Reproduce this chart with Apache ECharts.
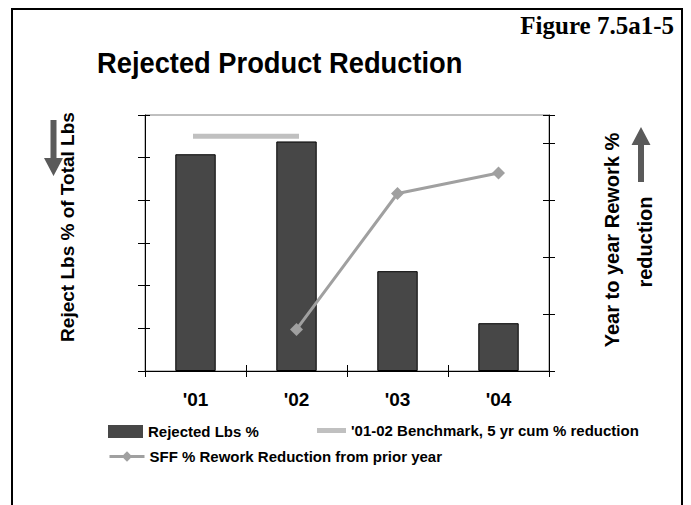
<!DOCTYPE html>
<html>
<head>
<meta charset="utf-8">
<style>
  html, body { margin: 0; padding: 0; background: #ffffff; }
  #chart { width: 691px; height: 505px; }
</style>
<script src="https://cdn.jsdelivr.net/npm/echarts@6/dist/echarts.min.js"></script>
</head>
<body>
<div id="chart"></div>
<script>
// Years on the category axis
const years = ["'01", "'02", "'03", "'04"];
// Reject lbs as % of total lbs (left axis)
const rejectedLbs = [5.08, 5.38, 2.34, 1.12];
// 5-year cumulative benchmark, spanning '01-'02 (left axis)
const benchmark = [5.5, 5.5, null, null];
// Year-to-year rework reduction (right axis)
const reworkReduction = [null, 7.3, 31.2, 34.8];

const leftMax = 6, leftStep = 1;
const rightMax = 45, rightStep = 10;

const SANS = 'Liberation Sans, Arial, sans-serif';
const SERIF = 'Liberation Serif, Times New Roman, serif';

const NAME_BARS = 'Rejected Lbs %';
const NAME_BENCH = "'01-02 Benchmark, 5 yr cum % reduction";
const NAME_LINE = 'SFF % Rework Reduction from prior year';

const chart = echarts.init(document.getElementById('chart'), null, { renderer: 'svg' });

const legendText = { fontFamily: SANS, fontWeight: 'bold', fontSize: 15, color: '#000' };

const option = {
  backgroundColor: '#ffffff',
  animation: false,
  grid: {
    left: 145, right: 142, top: 115, bottom: 134,
    show: true, borderColor: '#808080', borderWidth: 1, backgroundColor: 'transparent'
  },
  xAxis: [
    {
      type: 'category', data: years, position: 'bottom',
      axisLine: { lineStyle: { color: '#000', width: 1 } },
      axisTick: { show: true, inside: false, length: 6, lineStyle: { color: '#000' } },
      axisLabel: { margin: 19, fontFamily: SANS, fontWeight: 'bold', fontSize: 19, color: '#000' }
    },
    {
      type: 'category', data: years, position: 'bottom',
      axisLine: { show: false },
      axisTick: { show: true, inside: true, length: 6, lineStyle: { color: '#000' } },
      axisLabel: { show: false }
    }
  ],
  yAxis: [
    {
      type: 'value', min: 0, max: leftMax, interval: leftStep, position: 'left',
      axisLine: { show: true, lineStyle: { color: '#000' } },
      axisTick: { show: true, inside: false, length: 7, lineStyle: { color: '#000' } },
      axisLabel: { show: false }, splitLine: { show: false }
    },
    {
      type: 'value', min: 0, max: rightMax, interval: rightStep, position: 'right',
      axisLine: { show: true, lineStyle: { color: '#000' } },
      axisTick: { show: true, inside: false, length: 6, lineStyle: { color: '#000' } },
      axisLabel: { show: false }, splitLine: { show: false }
    },
    {
      type: 'value', min: 0, max: leftMax, interval: leftStep, position: 'left',
      axisLine: { show: false },
      axisTick: { show: true, inside: true, length: 5, lineStyle: { color: '#000' } },
      axisLabel: { show: false }, splitLine: { show: false }
    },
    {
      type: 'value', min: 0, max: rightMax, interval: rightStep, position: 'right',
      axisLine: { show: false },
      axisTick: { show: true, inside: true, length: 6, lineStyle: { color: '#000' } },
      axisLabel: { show: false }, splitLine: { show: false }
    }
  ],
  legend: [
    {
      data: [{ name: NAME_BARS, icon: 'rect' }], left: 108, top: 424, orient: 'horizontal',
      itemWidth: 35, itemHeight: 13, itemGap: 0, padding: 0,
      itemStyle: { borderWidth: 0 },
      textStyle: legendText
    },
    {
      data: [{ name: NAME_BENCH, icon: 'rect' }], left: 317, top: 423, orient: 'horizontal',
      itemWidth: 29, itemHeight: 5, itemGap: 0, padding: 0,
      textStyle: legendText
    },
    {
      data: [NAME_LINE], left: 108, top: 449, orient: 'horizontal',
      itemWidth: 35, itemHeight: 13, itemGap: 0, padding: 0,
      lineStyle: { width: 3 },
      textStyle: legendText
    }
  ],
  series: [
    {
      name: NAME_BARS, type: 'bar', data: rejectedLbs,
      xAxisIndex: 0, yAxisIndex: 0, barWidth: '40%',
      itemStyle: { color: '#474747', borderColor: '#000', borderWidth: 1 }
    },
    {
      name: NAME_BENCH, type: 'line', data: benchmark,
      xAxisIndex: 0, yAxisIndex: 0, symbol: 'none', showSymbol: false,
      lineStyle: { color: '#c0c0c0', width: 5, cap: 'square' },
      itemStyle: { color: '#c0c0c0' }, z: 3
    },
    {
      name: NAME_LINE, type: 'line', data: reworkReduction,
      xAxisIndex: 0, yAxisIndex: 1, symbol: 'diamond', symbolSize: 13,
      lineStyle: { color: '#a0a0a0', width: 3 },
      itemStyle: { color: '#a0a0a0' }, z: 4
    }
  ],
  graphic: [
    // outer frame (open at the bottom edge of the page)
    {
      type: 'rect', shape: { x: 12, y: 9, width: 670, height: 520 },
      style: { fill: 'none', stroke: '#000', lineWidth: 2 }, silent: true
    },
    {
      type: 'text', x: 674, y: 25,
      style: {
        text: 'Figure 7.5a1-5', fill: '#000', font: 'bold 25px ' + SERIF,
        textAlign: 'right', textVerticalAlign: 'middle'
      }
    },
    {
      type: 'text', x: 97, y: 63, scaleX: 0.91,
      style: {
        text: 'Rejected Product Reduction', fill: '#000', font: 'bold 30px ' + SANS,
        textAlign: 'left', textVerticalAlign: 'middle'
      }
    },
    // left axis title + down arrow
    {
      type: 'text', x: 67, y: 227, rotation: Math.PI / 2,
      style: {
        text: 'Reject Lbs % of Total Lbs', fill: '#000', font: 'bold 19px ' + SANS,
        textAlign: 'center', textVerticalAlign: 'middle'
      }
    },
    {
      type: 'polygon',
      shape: { points: [[50.5, 120], [56.5, 120], [56.5, 158], [63, 158], [53.5, 176], [44, 158], [50.5, 158]] },
      style: { fill: '#5a5a5a' }
    },
    // right axis title + up arrow
    {
      type: 'text', x: 612, y: 240, rotation: Math.PI / 2,
      style: {
        text: 'Year to year Rework %', fill: '#000', font: 'bold 20px ' + SANS,
        textAlign: 'center', textVerticalAlign: 'middle'
      }
    },
    {
      type: 'text', x: 645, y: 242, rotation: Math.PI / 2,
      style: {
        text: 'reduction', fill: '#000', font: 'bold 20px ' + SANS,
        textAlign: 'center', textVerticalAlign: 'middle'
      }
    },
    {
      type: 'polygon',
      shape: { points: [[638, 182], [644, 182], [644, 145], [650.5, 145], [641, 127], [631.5, 145], [638, 145]] },
      style: { fill: '#5a5a5a' }
    }
  ]
};

chart.setOption(option);
</script>
</body>
</html>
